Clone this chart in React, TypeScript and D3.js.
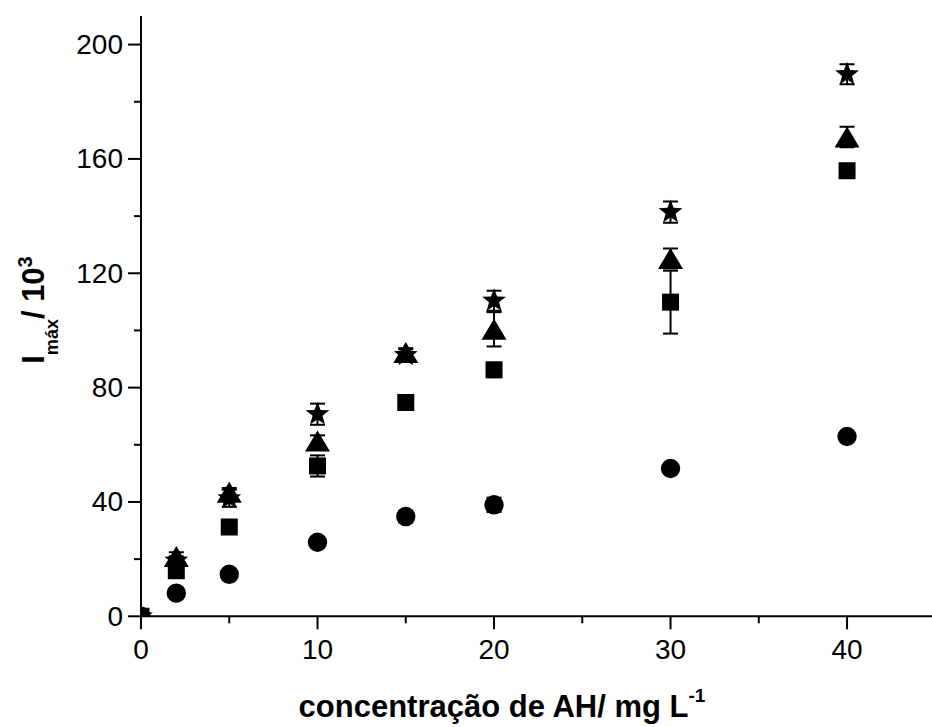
import React from "react";
import * as d3 from "d3";

const X = [0, 2, 5, 10, 15, 20, 30, 40];
const circleY = [0, 8.1, 14.7, 25.9, 34.9, 39.0, 51.7, 62.9];
const squareY = [0, 15.9, 31.2, 52.6, 74.8, 86.2, 109.9, 155.9];
const triangleY = [0, 20.9, 43.4, 61.3, 92.3, 100.4, 125.2, 167.7];
const starY = [0, 19.5, 41.3, 70.7, 91.4, 110.4, 141.4, 189.6];

const circleErr = [0, 1, 1, 1.5, 2, 2.5, 1.5, 1.5];
const squareErr = [0, 1.5, 1.5, 3.7, 1.5, 2.5, 11, 2];
const triangleErr = [0, 1.5, 1.5, 2, 1.5, 6, 3.5, 3.6];
const starErr = [0, 1.5, 3, 3.7, 2, 3.5, 3.7, 3.5];

const xMajor = [0, 10, 20, 30, 40];
const xMinor = [5, 15, 25, 35];
const yMajor = [0, 40, 80, 120, 160, 200];
const yMinor = [20, 60, 100, 140, 180];

const W = 932;
const H = 727;
const FONT = "'Liberation Sans', Arial, Helvetica, sans-serif";

function starPath(R: number, ratio: number) {
  const pts: string[] = [];
  for (let i = 0; i < 10; i++) {
    const r = i % 2 === 0 ? R : R * ratio;
    const a = -Math.PI / 2 + (i * Math.PI) / 5;
    pts.push(`${(r * Math.cos(a)).toFixed(2)},${(r * Math.sin(a)).toFixed(2)}`);
  }
  return "M" + pts.join("L") + "Z";
}

const markerPaths: Record<string, string> = {
  circle: d3.symbol(d3.symbolCircle, Math.PI * 9.7 * 9.7)() as string,
  square: "M-8.5,-8.5L8.5,-8.5L8.5,8.5L-8.5,8.5Z",
  triangle: "M0,-10.5L12.5,10.5L-12.5,10.5Z",
  star: starPath(12.5, 0.42),
};

const series = [
  { name: "circle", ys: circleY, errs: circleErr },
  { name: "square", ys: squareY, errs: squareErr },
  { name: "star", ys: starY, errs: starErr },
  { name: "triangle", ys: triangleY, errs: triangleErr },
];

export default function App() {
  const x = d3.scaleLinear().domain([0, 45]).range([141, 935.3]);
  const y = d3.scaleLinear().domain([0, 210]).range([616.3, 16]);
  const x0 = x(0);
  const y0 = y(0);

  return (
    <svg
      width={W}
      height={H}
      style={{ position: "absolute", left: 0, top: 0, background: "#fff" }}
      fontFamily={FONT}
    >
      <defs>
        <clipPath id="plotclip">
          <rect x={x0} y={y(210)} width={W - x0} height={y0 - y(210)} />
        </clipPath>
      </defs>
      <rect width={W} height={H} fill="#fff" />

      {/* data */}
      <g clipPath="url(#plotclip)">
        {series.map((s) =>
          X.map((xv, i) => {
            const e = s.errs[i];
            if (!e) return null;
            const cx = x(xv);
            const yt = y(s.ys[i] + e);
            const yb = y(s.ys[i] - e);
            return (
              <g key={`${s.name}-e-${i}`} stroke="#000" strokeWidth={2}>
                <line x1={cx} x2={cx} y1={yt} y2={yb} />
                <line x1={cx - 7.5} x2={cx + 7.5} y1={yt} y2={yt} />
                <line x1={cx - 7.5} x2={cx + 7.5} y1={yb} y2={yb} />
              </g>
            );
          })
        )}
        {series.map((s) =>
          X.map((xv, i) => (
            <path
              key={`${s.name}-m-${i}`}
              d={markerPaths[s.name]}
              transform={`translate(${x(xv)},${y(s.ys[i])})`}
              fill="#000"
            />
          ))
        )}
      </g>

      {/* axes */}
      <g stroke="#000" strokeWidth={2} fill="none">
        <line x1={x0} x2={x0} y1={y(210)} y2={y0 + 1} />
        <line x1={x0 - 1} x2={W} y1={y0} y2={y0} />
        {xMajor.map((t) => (
          <line key={`xM${t}`} x1={x(t)} x2={x(t)} y1={y0} y2={y0 + 13} />
        ))}
        {xMinor.map((t) => (
          <line key={`xm${t}`} x1={x(t)} x2={x(t)} y1={y0} y2={y0 + 7} />
        ))}
        {yMajor.map((t) => (
          <line key={`yM${t}`} x1={x0} x2={x0 - 13} y1={y(t)} y2={y(t)} />
        ))}
        {yMinor.map((t) => (
          <line key={`ym${t}`} x1={x0} x2={x0 - 7} y1={y(t)} y2={y(t)} />
        ))}
      </g>

      <g fontSize={28} fill="#000">
        {xMajor.map((t) => (
          <text key={`xl${t}`} x={x(t)} y={y0 + 43} textAnchor="middle">
            {t}
          </text>
        ))}
        {yMajor.map((t) => (
          <text key={`yl${t}`} x={123} y={y(t) + 9.5} textAnchor="end">
            {t}
          </text>
        ))}
      </g>

      {/* x title */}
      <text x={502} y={716.5} fontSize={31} fontWeight="bold" textAnchor="middle" fill="#000">
        <tspan>concentração de AH/ mg L</tspan>
        <tspan fontSize={19} dy={-14.5}>-1</tspan>
      </text>

      {/* y title */}
      <text
        transform="translate(43.5,310) rotate(-90)"
        fontSize={31}
        fontWeight="bold"
        textAnchor="middle"
        fill="#000"
      >
        <tspan>I</tspan>
        <tspan fontSize={18} dy={14}>máx</tspan>
        <tspan dy={-14}>/ 10</tspan>
        <tspan fontSize={20} dy={-12}>3</tspan>
      </text>
    </svg>
  );
}
